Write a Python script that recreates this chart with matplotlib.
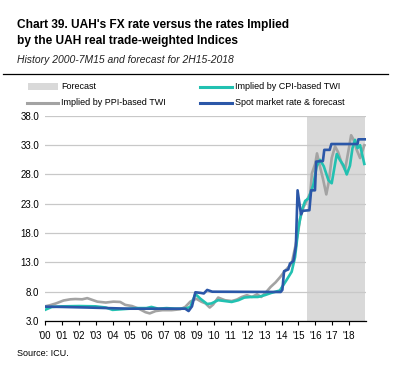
import matplotlib
matplotlib.use('Agg')
import matplotlib.pyplot as plt
import matplotlib.lines as mlines
import matplotlib.patches as mpatches

plt.rcParams['font.family'] = ['Liberation Sans', 'DejaVu Sans']

# Spot market rate & forecast (UAH per USD)
spot_t = [2000.0, 2001.0, 2002.5, 2005.0, 2008.3, 2008.5, 2008.7, 2008.9, 2009.2, 2009.4,
          2009.6, 2009.9, 2013.95, 2014.05, 2014.15, 2014.4, 2014.5, 2014.7, 2014.85, 2014.95,
          2015.15, 2015.25, 2015.65, 2015.75, 2015.98, 2016.05, 2016.45, 2016.53, 2016.85,
          2016.95, 2018.5, 2018.55, 2018.95]
spot_v = [5.45, 5.4, 5.3, 5.1, 5.1, 4.7, 5.5, 7.9, 7.8, 7.7,
          8.3, 8.0, 7.95, 8.3, 11.5, 11.8, 12.8, 13.2, 15.8, 25.3,
          21.2, 21.8, 21.9, 25.3, 25.3, 30.2, 30.3, 32.2, 32.2,
          33.2, 33.2, 34.0, 34.0]

# Implied by PPI-based TWI
ppi_t = [2000.0, 2000.3, 2000.65, 2001.1, 2001.5, 2001.8, 2002.2, 2002.5, 2002.8, 2003.1,
         2003.6, 2004.05, 2004.45, 2004.75, 2005.15, 2005.55, 2005.95, 2006.2, 2006.55, 2006.95,
         2007.5, 2008.0, 2008.3, 2008.6, 2008.95, 2009.25, 2009.5, 2009.75, 2009.95, 2010.25,
         2010.65, 2011.05, 2011.35, 2011.65, 2011.95, 2012.25, 2012.55, 2012.8, 2013.05, 2013.35,
         2013.65, 2013.92, 2014.22, 2014.6, 2014.8, 2015.0, 2015.1, 2015.3, 2015.5, 2015.7,
         2015.8, 2016.0, 2016.1, 2016.28, 2016.45, 2016.65, 2016.8, 2016.97, 2017.17, 2017.35,
         2017.56, 2017.76, 2017.97, 2018.12, 2018.25, 2018.45, 2018.65, 2018.9]
ppi_v = [5.5, 5.7, 6.0, 6.5, 6.7, 6.75, 6.7, 6.9, 6.6, 6.3,
         6.15, 6.3, 6.25, 5.75, 5.55, 5.1, 4.5, 4.3, 4.7, 4.85,
         4.85, 5.0, 5.4, 6.3, 6.8, 6.3, 6.0, 5.3, 5.8, 7.0,
         6.55, 6.4, 6.65, 7.1, 7.4, 7.1, 7.55, 7.1, 7.8, 8.8,
         9.6, 10.5, 11.6, 12.8, 15.5, 18.5, 20.5, 22.4, 23.6, 24.8,
         28.2, 29.9, 31.6, 29.3, 27.3, 24.6, 26.8, 30.8, 32.8, 31.8,
         29.9, 28.8, 32.2, 34.7, 34.0, 32.2, 30.8, 33.0]

# Implied by CPI-based TWI
cpi_t = [2000.0, 2000.4, 2001.0, 2002.0, 2003.0, 2003.6, 2004.0, 2004.5, 2005.0, 2005.5,
         2006.0, 2006.3, 2006.7, 2007.2, 2007.7, 2008.3, 2008.6, 2008.9, 2009.2, 2009.6,
         2009.85, 2010.25, 2010.65, 2011.05, 2011.45, 2011.8, 2012.2, 2012.6, 2013.0, 2013.4,
         2013.9, 2014.3, 2014.6, 2014.8, 2015.0, 2015.2, 2015.4, 2015.6, 2015.88, 2016.08,
         2016.28, 2016.5, 2016.78, 2016.97, 2017.27, 2017.45, 2017.66, 2017.86, 2018.05, 2018.2,
         2018.35, 2018.5, 2018.65, 2018.9]
cpi_v = [4.9, 5.4, 5.5, 5.55, 5.5, 5.3, 4.9, 5.0, 5.1, 5.2,
         5.2, 5.4, 5.1, 5.2, 5.1, 5.1, 5.4, 7.6, 6.8, 5.9,
         6.0, 6.55, 6.4, 6.25, 6.55, 7.0, 7.1, 7.1, 7.4, 7.8,
         8.2, 10.0, 11.4, 13.9, 18.9, 21.9, 23.5, 23.9, 26.2, 29.4,
         30.5, 29.4, 27.0, 26.5, 31.5, 30.5, 29.6, 28.0, 29.5, 32.5,
         33.9, 32.5, 33.0, 29.8]

forecast_span = (2015.5, 2018.95)
years = list(range(2000, 2019))
year_labels = ["'%02d" % (y % 100) for y in years]
y_ticks = [3.0, 8.0, 13.0, 18.0, 23.0, 28.0, 33.0, 38.0]

c_ppi = '#a3a3a3'
c_cpi = '#22c1b1'
c_spot = '#2b57a8'
c_fc = '#d9d9d9'

fig = plt.figure(figsize=(4.0, 3.75), dpi=100)
ax = fig.add_axes([0.1125, 0.144, 0.8025, 0.547])

ax.axvspan(*forecast_span, color=c_fc, lw=0, zorder=0)
ax.plot(ppi_t, ppi_v, color=c_ppi, lw=1.9, zorder=2)
ax.plot(cpi_t, cpi_v, color=c_cpi, lw=1.9, zorder=3)
ax.plot(spot_t, spot_v, color=c_spot, lw=1.9, zorder=4)

ax.set_xlim(2000, 2019)
ax.set_ylim(3, 38)
ax.set_yticks(y_ticks)
ax.set_yticklabels(['%.1f' % v for v in y_ticks])
ax.set_xticks(years)
ax.set_xticklabels(year_labels)
ax.grid(axis='y', color='#c8c8c8', lw=0.9, zorder=1)
ax.set_axisbelow(True)
for s in ['left', 'right', 'top']:
    ax.spines[s].set_visible(False)
ax.spines['bottom'].set_color('black')
ax.spines['bottom'].set_linewidth(0.9)
ax.tick_params(axis='y', length=0, labelsize=7, pad=4)
ax.tick_params(axis='x', length=3, width=0.8, direction='out', labelsize=7, pad=4)

# Titles
fig.text(0.043, 0.925, "Chart 39. UAH's FX rate versus the rates Implied", fontsize=8.6,
         fontweight='bold', ha='left', va='baseline')
fig.text(0.043, 0.882, "by the UAH real trade-weighted Indices", fontsize=8.6,
         fontweight='bold', ha='left', va='baseline')
fig.text(0.043, 0.833, "History 2000-7M15 and forecast for 2H15-2018", fontsize=7.5,
         style='italic', ha='left', va='baseline', color='#222222')
fig.add_artist(mlines.Line2D([0.008, 0.97], [0.803, 0.803], color='black', lw=0.9))

# Legend
fig.add_artist(mpatches.Rectangle((0.07, 0.76), 0.075, 0.018, color=c_fc, lw=0))
fig.text(0.152, 0.769, 'Forecast', fontsize=6.5, va='center')
fig.add_artist(mlines.Line2D([0.5, 0.58], [0.769, 0.769], color=c_cpi, lw=2.2))
fig.text(0.587, 0.769, 'Implied by CPI-based TWI', fontsize=6.5, va='center')
fig.add_artist(mlines.Line2D([0.068, 0.145], [0.726, 0.726], color=c_ppi, lw=2.2))
fig.text(0.152, 0.726, 'Implied by PPI-based TWI', fontsize=6.5, va='center')
fig.add_artist(mlines.Line2D([0.5, 0.58], [0.726, 0.726], color=c_spot, lw=2.2))
fig.text(0.587, 0.726, 'Spot market rate & forecast', fontsize=6.5, va='center')

fig.text(0.043, 0.05, 'Source: ICU.', fontsize=6.5, ha='left', va='baseline')

fig.savefig('out.png', dpi=100)
